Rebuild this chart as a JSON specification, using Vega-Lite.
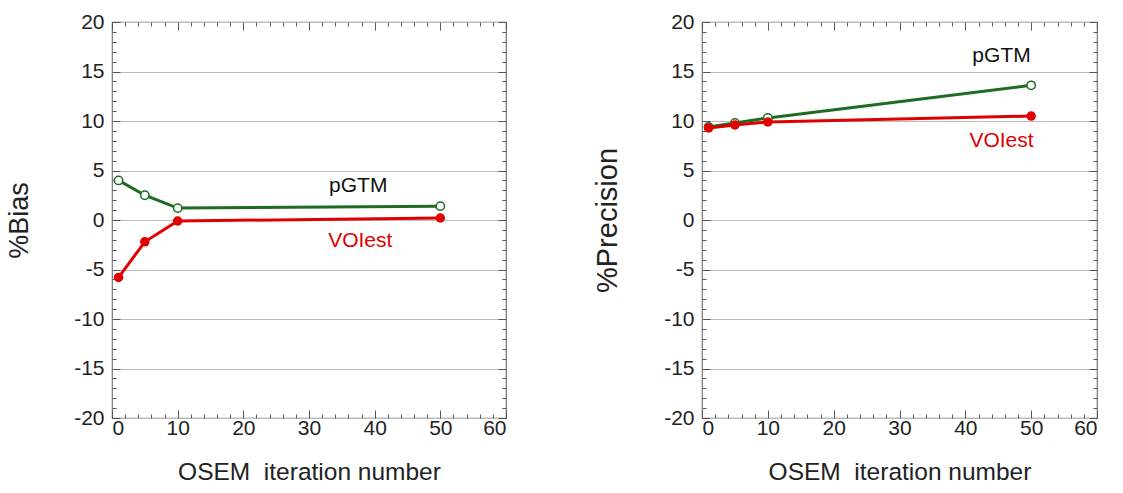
{
  "$schema": "https://vega.github.io/schema/vega-lite/v6.json",
  "background": "white",
  "padding": {"left": 5, "top": 10, "right": 5, "bottom": 5},
  "spacing": 85,
  "config": {
    "font": "Liberation Sans",
    "view": {"stroke": "#777", "strokeWidth": 1.2},
    "axis": {"labelFont": "Liberation Sans", "titleFont": "Liberation Sans", "labelColor": "#222", "titleColor": "#222", "titleFontWeight": "normal", "labelFontSize": 21, "titleFontSize": 24.5, "domain": false, "tickColor": "#555"}
  },
  "datasets": {
    "bias": [
      {"iter": 1, "method": "pGTM", "value": 4.0},
      {"iter": 5, "method": "pGTM", "value": 2.5},
      {"iter": 10, "method": "pGTM", "value": 1.2},
      {"iter": 50, "method": "pGTM", "value": 1.4},
      {"iter": 1, "method": "VOIest", "value": -5.8},
      {"iter": 5, "method": "VOIest", "value": -2.2},
      {"iter": 10, "method": "VOIest", "value": -0.1},
      {"iter": 50, "method": "VOIest", "value": 0.2}
    ],
    "biasLabels": [
      {"iter": 37.5, "value": 3.4, "label": "pGTM", "color": "black"},
      {"iter": 37.8, "value": -2.1, "label": "VOIest", "color": "red"}
    ],
    "precision": [
      {"iter": 1, "method": "pGTM", "value": 9.4},
      {"iter": 5, "method": "pGTM", "value": 9.8},
      {"iter": 10, "method": "pGTM", "value": 10.3},
      {"iter": 50, "method": "pGTM", "value": 13.6},
      {"iter": 1, "method": "VOIest", "value": 9.3},
      {"iter": 5, "method": "VOIest", "value": 9.6},
      {"iter": 10, "method": "VOIest", "value": 9.9},
      {"iter": 50, "method": "VOIest", "value": 10.5}
    ],
    "precisionLabels": [
      {"iter": 45.5, "value": 16.6, "label": "pGTM", "color": "black"},
      {"iter": 45.5, "value": 8.0, "label": "VOIest", "color": "red"}
    ]
  },
  "hconcat": [
    {
      "width": 394,
      "height": 396,
      "resolve": {"axis": {"x": "independent", "y": "independent"}, "scale": {"x": "shared", "y": "shared"}},
      "layer": [
        {
          "data": {"name": "bias"},
          "transform": [{"filter": "datum.method === 'pGTM'"}],
          "mark": {"type": "line", "color": "#1e6b22", "strokeWidth": 3, "point": {"filled": false, "fill": "white", "stroke": "#1e6b22", "strokeWidth": 1.5, "size": 70}},
          "encoding": {
            "x": {"field": "iter", "type": "quantitative", "scale": {"domain": [0, 60], "nice": false},
              "axis": {"orient": "bottom", "title": "OSEM\u00a0\u00a0iteration number", "titlePadding": 22, "values": [0,2,4,6,8,10,12,14,16,18,20,22,24,26,28,30,32,34,36,38,40,42,44,46,48,50,52,54,56,58,60], "labelExpr": "datum.value % 10 === 0 ? '' + datum.value : ''", "tickSize": {"condition": {"test": "datum.value % 10 === 0", "value": -8}, "value": -4}, "labelPadding": 7, "grid": false}},
            "y": {"field": "value", "type": "quantitative", "scale": {"domain": [-20, 20], "nice": false},
              "axis": {"orient": "left", "title": "%Bias", "titlePadding": 40, "titleFontSize": 27, "values": [-20,-19,-18,-17,-16,-15,-14,-13,-12,-11,-10,-9,-8,-7,-6,-5,-4,-3,-2,-1,0,1,2,3,4,5,6,7,8,9,10,11,12,13,14,15,16,17,18,19,20], "labelExpr": "datum.value % 5 === 0 ? '' + datum.value : ''", "tickSize": {"condition": {"test": "datum.value % 5 === 0", "value": -8}, "value": -4}, "labelPadding": 16, "grid": true, "gridColor": "#bbb", "gridOpacity": {"condition": {"test": "datum.value % 5 === 0", "value": 1}, "value": 0}}}
          }
        },
        {
          "data": {"name": "bias"},
          "transform": [{"filter": "datum.method === 'VOIest'"}],
          "mark": {"type": "line", "color": "#e00000", "strokeWidth": 3, "point": {"filled": true, "color": "#e00000", "size": 90}},
          "encoding": {
            "x": {"field": "iter", "type": "quantitative", "scale": {"domain": [0, 60], "nice": false},
              "axis": {"orient": "top", "title": null, "values": [0,2,4,6,8,10,12,14,16,18,20,22,24,26,28,30,32,34,36,38,40,42,44,46,48,50,52,54,56,58,60], "labels": false, "tickSize": {"condition": {"test": "datum.value % 10 === 0", "value": -8}, "value": -4}, "grid": false}},
            "y": {"field": "value", "type": "quantitative", "scale": {"domain": [-20, 20], "nice": false},
              "axis": {"orient": "right", "title": null, "values": [-20,-19,-18,-17,-16,-15,-14,-13,-12,-11,-10,-9,-8,-7,-6,-5,-4,-3,-2,-1,0,1,2,3,4,5,6,7,8,9,10,11,12,13,14,15,16,17,18,19,20], "labels": false, "tickSize": {"condition": {"test": "datum.value % 5 === 0", "value": -8}, "value": -4}, "grid": false}}
          }
        },
        {
          "mark": {"type": "rule", "color": "black", "strokeWidth": 2},
          "encoding": {"y": {"datum": 0, "axis": null}}
        },
        {
          "data": {"name": "biasLabels"},
          "mark": {"type": "text", "fontSize": 21, "font": "Liberation Sans", "align": "center", "baseline": "middle"},
          "encoding": {
            "x": {"field": "iter", "type": "quantitative", "axis": null},
            "y": {"field": "value", "type": "quantitative", "axis": null},
            "text": {"field": "label"},
            "color": {"field": "color", "type": "nominal", "scale": {"domain": ["black", "red"], "range": ["#111111", "#e00000"]}, "legend": null}
          }
        }
      ]
    },
    {
      "width": 395,
      "height": 396,
      "resolve": {"axis": {"x": "independent", "y": "independent"}, "scale": {"x": "shared", "y": "shared"}},
      "layer": [
        {
          "data": {"name": "precision"},
          "transform": [{"filter": "datum.method === 'pGTM'"}],
          "mark": {"type": "line", "color": "#1e6b22", "strokeWidth": 3, "point": {"filled": false, "fill": "white", "stroke": "#1e6b22", "strokeWidth": 1.5, "size": 70}},
          "encoding": {
            "x": {"field": "iter", "type": "quantitative", "scale": {"domain": [0, 60], "nice": false},
              "axis": {"orient": "bottom", "title": "OSEM\u00a0\u00a0iteration number", "titlePadding": 22, "values": [0,2,4,6,8,10,12,14,16,18,20,22,24,26,28,30,32,34,36,38,40,42,44,46,48,50,52,54,56,58,60], "labelExpr": "datum.value % 10 === 0 ? '' + datum.value : ''", "tickSize": {"condition": {"test": "datum.value % 10 === 0", "value": -8}, "value": -4}, "labelPadding": 7, "grid": false}},
            "y": {"field": "value", "type": "quantitative", "scale": {"domain": [-20, 20], "nice": false},
              "axis": {"orient": "left", "title": "%Precision", "titlePadding": 41, "titleFontSize": 29, "values": [-20,-19,-18,-17,-16,-15,-14,-13,-12,-11,-10,-9,-8,-7,-6,-5,-4,-3,-2,-1,0,1,2,3,4,5,6,7,8,9,10,11,12,13,14,15,16,17,18,19,20], "labelExpr": "datum.value % 5 === 0 ? '' + datum.value : ''", "tickSize": {"condition": {"test": "datum.value % 5 === 0", "value": -8}, "value": -4}, "labelPadding": 16, "grid": true, "gridColor": "#bbb", "gridOpacity": {"condition": {"test": "datum.value % 5 === 0", "value": 1}, "value": 0}}}
          }
        },
        {
          "data": {"name": "precision"},
          "transform": [{"filter": "datum.method === 'VOIest'"}],
          "mark": {"type": "line", "color": "#e00000", "strokeWidth": 3, "point": {"filled": true, "color": "#e00000", "size": 90}},
          "encoding": {
            "x": {"field": "iter", "type": "quantitative", "scale": {"domain": [0, 60], "nice": false},
              "axis": {"orient": "top", "title": null, "values": [0,2,4,6,8,10,12,14,16,18,20,22,24,26,28,30,32,34,36,38,40,42,44,46,48,50,52,54,56,58,60], "labels": false, "tickSize": {"condition": {"test": "datum.value % 10 === 0", "value": -8}, "value": -4}, "grid": false}},
            "y": {"field": "value", "type": "quantitative", "scale": {"domain": [-20, 20], "nice": false},
              "axis": {"orient": "right", "title": null, "values": [-20,-19,-18,-17,-16,-15,-14,-13,-12,-11,-10,-9,-8,-7,-6,-5,-4,-3,-2,-1,0,1,2,3,4,5,6,7,8,9,10,11,12,13,14,15,16,17,18,19,20], "labels": false, "tickSize": {"condition": {"test": "datum.value % 5 === 0", "value": -8}, "value": -4}, "grid": false}}
          }
        },
        {
          "mark": {"type": "rule", "color": "black", "strokeWidth": 2},
          "encoding": {"y": {"datum": 0, "axis": null}}
        },
        {
          "data": {"name": "precisionLabels"},
          "mark": {"type": "text", "fontSize": 21, "font": "Liberation Sans", "align": "center", "baseline": "middle"},
          "encoding": {
            "x": {"field": "iter", "type": "quantitative", "axis": null},
            "y": {"field": "value", "type": "quantitative", "axis": null},
            "text": {"field": "label"},
            "color": {"field": "color", "type": "nominal", "scale": {"domain": ["black", "red"], "range": ["#111111", "#e00000"]}, "legend": null}
          }
        }
      ]
    }
  ]
}
